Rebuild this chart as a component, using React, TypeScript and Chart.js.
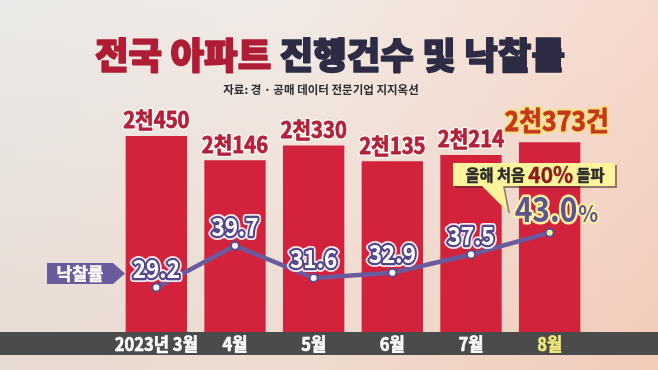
import { useEffect, useRef } from "react";
import { Chart, registerables } from "chart.js";
Chart.register(...registerables);

const categories = ["2023년 3월", "4월", "5월", "6월", "7월", "8월"];
const cases = [2450, 2146, 2330, 2135, 2214, 2373];
const caseLabels = ["2천450", "2천146", "2천330", "2천135", "2천214", "2천373건"];
const rates = [29.2, 39.7, 31.6, 32.9, 37.5, 43.0];
const rateLabels = ["29.2", "39.7", "31.6", "32.9", "37.5", "43.0"];
const titleRed = "전국 아파트";
const titleDark = "진행건수 및 낙찰률";
const sourceText = "자료: 경 · 공매 데이터 전문기업 지지옥션";
const seriesName = "낙찰률";
const calloutParts = ["올해 처음 ", "40%", " 돌파"];

const FONT = '"Noto Sans CJK KR", "Noto Sans", sans-serif';

function txt(
  ctx: CanvasRenderingContext2D,
  text: string,
  x: number,
  y: number,
  size: number,
  fill: string,
  opts: { sx?: number; strokes?: [string, number][]; align?: CanvasTextAlign; baseline?: CanvasTextBaseline; weight?: string; thick?: number } = {}
) {
  const sx = opts.sx ?? 1;
  ctx.save();
  ctx.translate(x, y);
  ctx.scale(sx, 1);
  ctx.font = `${opts.weight ?? "bold"} ${size}px ${FONT}`;
  ctx.textAlign = opts.align ?? "center";
  ctx.textBaseline = opts.baseline ?? "middle";
  ctx.lineJoin = "round";
  for (const [c, w] of opts.strokes ?? []) {
    ctx.strokeStyle = c;
    ctx.lineWidth = w;
    ctx.strokeText(text, 0, 0);
  }
  if (opts.thick) {
    ctx.strokeStyle = fill;
    ctx.lineWidth = opts.thick;
    ctx.strokeText(text, 0, 0);
  }
  ctx.fillStyle = fill;
  ctx.fillText(text, 0, 0);
  ctx.restore();
}

function measure(ctx: CanvasRenderingContext2D, text: string, size: number, sx = 1, weight = "bold") {
  ctx.save();
  ctx.font = `${weight} ${size}px ${FONT}`;
  const w = ctx.measureText(text).width * sx;
  ctx.restore();
  return w;
}

const decor = {
  id: "decor",
  beforeDraw(chart: any) {
    const ctx: CanvasRenderingContext2D = chart.ctx;
    const W = chart.width;
    const H = chart.height;
    ctx.save();
    const g = ctx.createLinearGradient(0, 0, W, 0);
    g.addColorStop(0, "#e4e2df");
    g.addColorStop(0.45, "#ede3dc");
    g.addColorStop(1, "#f3cdbd");
    ctx.fillStyle = g;
    ctx.fillRect(0, 0, W, H);
    const g2 = ctx.createLinearGradient(0, 0, 0, H);
    g2.addColorStop(0, "rgba(255,255,255,0.25)");
    g2.addColorStop(1, "rgba(240,195,170,0.25)");
    ctx.fillStyle = g2;
    ctx.fillRect(0, 0, W, H);
    ctx.restore();

    // title
    const ts = 36.5;
    const w1 = measure(ctx, titleRed + " ", ts, 1, "900");
    const w2 = measure(ctx, titleDark, ts, 1, "900");
    const x0 = 330 - (w1 + w2) / 2;
    txt(ctx, titleRed + " ", x0, 55, ts, "#b01c35", { align: "left", weight: "900", thick: 1.6 });
    txt(ctx, titleDark, x0 + w1, 55, ts, "#2d2c44", { align: "left", weight: "900", thick: 1.6 });
    txt(ctx, sourceText, 321, 90, 11.5, "#2e2e2e", { weight: "bold" });
  },
  afterDatasetsDraw(chart: any) {
    const ctx: CanvasRenderingContext2D = chart.ctx;
    const lineMeta = chart.getDatasetMeta(0);
    const barMeta = chart.getDatasetMeta(1);

    // bottom band
    ctx.save();
    ctx.fillStyle = "#4b4b4b";
    ctx.fillRect(0, chart.chartArea.bottom, chart.width, 23);
    ctx.restore();

    // x labels
    categories.forEach((c, i) => {
      const b = barMeta.data[i];
      txt(ctx, c, b.x, chart.chartArea.bottom + 12, 18, i === 5 ? "#f2ea78" : "#ffffff", { sx: 0.92, thick: 0.6 });
    });

    // bar labels
    caseLabels.forEach((l, i) => {
      const b = barMeta.data[i];
      if (i < 5) {
        txt(ctx, l, b.x, b.y - 16, 22, "#b3203a", { sx: 0.92, strokes: [["rgba(255,255,255,0.85)", 3.5]], thick: 0.8 });
      } else {
        txt(ctx, l, b.x + 7, b.y - 21, 27, "#c6361d", { sx: 0.92, strokes: [["#f6e27a", 4.5]], thick: 0.8 });
      }
    });

    // series name tag
    ctx.save();
    ctx.fillStyle = "#6a5a9e";
    ctx.beginPath();
    ctx.moveTo(47, 263);
    ctx.lineTo(113, 263);
    ctx.lineTo(125, 273.5);
    ctx.lineTo(113, 284);
    ctx.lineTo(47, 284);
    ctx.closePath();
    ctx.fill();
    ctx.restore();
    txt(ctx, seriesName, 80, 274, 17, "#ffffff", { thick: 0.5 });

    // rate labels
    rateLabels.forEach((l, i) => {
      const p = lineMeta.data[i];
      if (i < 5) {
        txt(ctx, l, p.x, p.y - 19, 25, "#ffffff", {
          sx: 0.9,
          strokes: [["rgba(255,255,255,0.9)", 8], ["#54468a", 4.5]],
        });
      }
    });

    // callout
    ctx.save();
    const poly = [
      [453, 163], [615, 163], [615, 186], [503, 186], [508, 212], [482, 186], [453, 186],
    ];
    ctx.beginPath();
    poly.forEach(([x, y], k) => (k ? ctx.lineTo(x + 2, y + 2) : ctx.moveTo(x + 2, y + 2)));
    ctx.closePath();
    ctx.fillStyle = "rgba(60,45,35,0.55)";
    ctx.fill();
    ctx.beginPath();
    poly.forEach(([x, y], k) => (k ? ctx.lineTo(x, y) : ctx.moveTo(x, y)));
    ctx.closePath();
    ctx.fillStyle = "#fcf59c";
    ctx.fill();
    ctx.restore();
    const sizes = [16, 22, 16];
    const colors = ["#2a2a2a", "#8b1b1b", "#2a2a2a"];
    const widths = calloutParts.map((s, k) => measure(ctx, s, sizes[k], 0.95));
    let cx = 535 - widths.reduce((a, b) => a + b, 0) / 2;
    calloutParts.forEach((s, k) => {
      txt(ctx, s, cx, 175, sizes[k], colors[k], { sx: 0.95, align: "left", thick: 0.5 });
      cx += widths[k];
    });

    // last rate label
    const p = lineMeta.data[5];
    const wNum = measure(ctx, rateLabels[5], 34, 0.88);
    const left = p.x - 35;
    txt(ctx, rateLabels[5], left, p.y - 11, 34, "#5d5491", {
      sx: 0.88,
      align: "left",
      baseline: "alphabetic",
      strokes: [["#fdf3a0", 5]],
    });
    txt(ctx, "%", left + wNum + 1, p.y - 11, 23, "#5d5491", {
      sx: 0.9,
      align: "left",
      baseline: "alphabetic",
      strokes: [["#fdf3a0", 4]],
    });
  },
};

export default function App() {
  const ref = useRef<HTMLCanvasElement | null>(null);
  useEffect(() => {
    if (!ref.current) return;
    const chart = new Chart(ref.current, {
      type: "bar",
      data: {
        labels: categories,
        datasets: [
          {
            type: "line",
            label: seriesName,
            data: rates,
            yAxisID: "y1",
            borderColor: "#6a5a9e",
            borderWidth: 4.5,
            pointRadius: 4,
            pointBorderWidth: 2,
            pointBackgroundColor: ["#ffffff", "#ffffff", "#ffffff", "#ffffff", "#ffffff", "#f7f2a6"],
            pointBorderColor: "#5b4c8c",
            tension: 0,
            order: 1,
          } as any,
          {
            type: "bar",
            label: "진행건수",
            data: cases,
            yAxisID: "y",
            backgroundColor: "#d3223b",
            categoryPercentage: 0.78,
            barPercentage: 1,
            order: 2,
          } as any,
        ],
      },
      options: {
        animation: false,
        responsive: false,
        devicePixelRatio: 1,
        layout: { padding: { left: 117, right: 69, top: 92, bottom: 38 } },
        plugins: { legend: { display: false }, tooltip: { enabled: false } },
        scales: {
          x: { display: false, offset: true },
          y: { display: false, min: 0, max: 3000 },
          y1: { display: false, min: 18, max: 78.4, position: "right" },
        },
      },
      plugins: [decor],
    });
    return () => chart.destroy();
  }, []);
  return (
    <div style={{ position: "absolute", left: 0, top: 0, width: 658, height: 370 }}>
      <canvas ref={ref} width={658} height={370} style={{ display: "block", width: 658, height: 370 }} />
    </div>
  );
}
